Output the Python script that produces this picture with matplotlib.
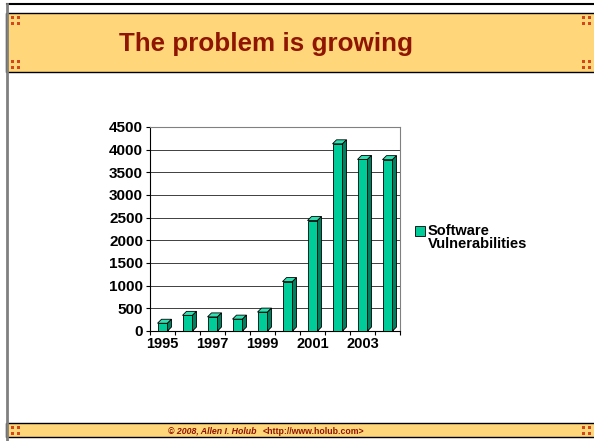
import numpy as np
import matplotlib.pyplot as plt
from matplotlib.patches import Rectangle, Polygon
from matplotlib.lines import Line2D

# datos del grafico
anios = ['1995', '1996', '1997', '1998', '1999', '2000', '2001', '2002', '2003', '2004']
vulnerabilidades = [171, 345, 311, 262, 417, 1090, 2437, 4129, 3784, 3780]
yticks = [0, 500, 1000, 1500, 2000, 2500, 3000, 3500, 4000, 4500]
serie = 'Software\nVulnerabilities'
titulo = 'The problem is growing'
pie_1 = '\u00a9 2008, Allen I. Holub'
pie_2 = '<http://www.holub.com>'

W, H = 594, 441
plt.rcParams['font.family'] = ['Liberation Sans', 'DejaVu Sans']
fig = plt.figure(figsize=(W / 100, H / 100), dpi=100)

def fx(x):
    return x / W

def fy(y):
    return 1 - y / H

# marco de la diapositiva
fig.add_artist(Line2D([fx(7), fx(W)], [fy(4), fy(4)], color='black', lw=1.5))
fig.add_artist(Line2D([fx(7), fx(7)], [fy(4), fy(H)], color='#808080', lw=2))

banda = '#FFD67A'
rojo = '#D2461A'
for y0, y1 in [(13, 72), (423, 437)]:
    fig.add_artist(Rectangle((fx(6), fy(y1)), fx(W) - fx(6) + 0.01, fy(y0) - fy(y1),
                             facecolor=banda, edgecolor='black', lw=1))

# puntitos decorativos de las esquinas
def puntos(cx, cy):
    for ddx in (0, 6):
        for ddy in (0, 6):
            fig.add_artist(Rectangle((fx(cx + ddx), fy(cy + ddy + 3)), 3 / W, 3 / H,
                                     facecolor=rojo, edgecolor='none'))

puntos(11, 16)
puntos(11, 60)
puntos(582, 16)
puntos(582, 60)
puntos(11, 426)
puntos(582, 426)

fig.text(fx(266), fy(44), titulo, ha='center', va='center', fontsize=18.7,
         fontweight='bold', color='#8F1500')
fig.text(fx(256), fy(431), pie_1, ha='right', va='center', fontsize=6.3,
         fontweight='bold', style='italic', color='#8F1500')
fig.text(fx(263), fy(431), pie_2, ha='left', va='center', fontsize=6.3,
         fontweight='bold', color='#8F1500')

# grafico de barras
ax = fig.add_axes([fx(150), fy(331), (400 - 150) / W, (331 - 127) / H])
x = np.arange(len(anios))
ancho = 0.4
frente = '#00CC99'
ax.bar(x, vulnerabilidades, width=ancho, color=frente, edgecolor='black', lw=0.6, zorder=3)

ax.set_xlim(-0.5, len(anios) - 0.5)
ax.set_ylim(0, 4500)

# profundidad 3D (en pixeles pasada a datos)
prof = 4.0
dx = prof / 25.0
dy = prof * 4500 / (331 - 127)
for xi, v in zip(x, vulnerabilidades):
    izq, der = xi - ancho / 2, xi + ancho / 2
    ax.add_patch(Polygon([(izq, v), (der, v), (der + dx, v + dy), (izq + dx, v + dy)],
                         closed=True, facecolor='#2FE0B0', edgecolor='black', lw=0.6, zorder=3))
    ax.add_patch(Polygon([(der, 0), (der + dx, dy), (der + dx, v + dy), (der, v)],
                         closed=True, facecolor='#007F5F', edgecolor='black', lw=0.6, zorder=3))

ax.set_yticks(yticks)
ax.set_yticklabels([str(t) for t in yticks], fontsize=11, fontweight='bold')
ax.set_xticks(x[::2])
ax.set_xticklabels(anios[::2], fontsize=10.5, fontweight='bold')
ax.set_xticks(np.arange(-0.5, len(anios)), minor=True)
ax.tick_params(axis='x', which='major', length=0, pad=4)
ax.tick_params(axis='x', which='minor', length=3, width=0.8, direction='out')
ax.tick_params(axis='y', length=3, width=0.8, direction='out', pad=2)

ax.grid(axis='y', color='#202020', lw=0.6, zorder=0)
ax.spines['left'].set_color('black')
ax.spines['bottom'].set_color('black')
ax.spines['top'].set_color('#808080')
ax.spines['right'].set_color('#808080')
for s in ax.spines.values():
    s.set_linewidth(0.8)

# leyenda
fig.add_artist(Rectangle((fx(415), fy(236)), 10 / W, 10 / H, facecolor=frente,
                         edgecolor='black', lw=0.6))
fig.text(fx(428), fy(224), serie, ha='left', va='top', fontsize=10.5,
         fontweight='bold', linespacing=0.95)

fig.savefig('out.png', dpi=100)
